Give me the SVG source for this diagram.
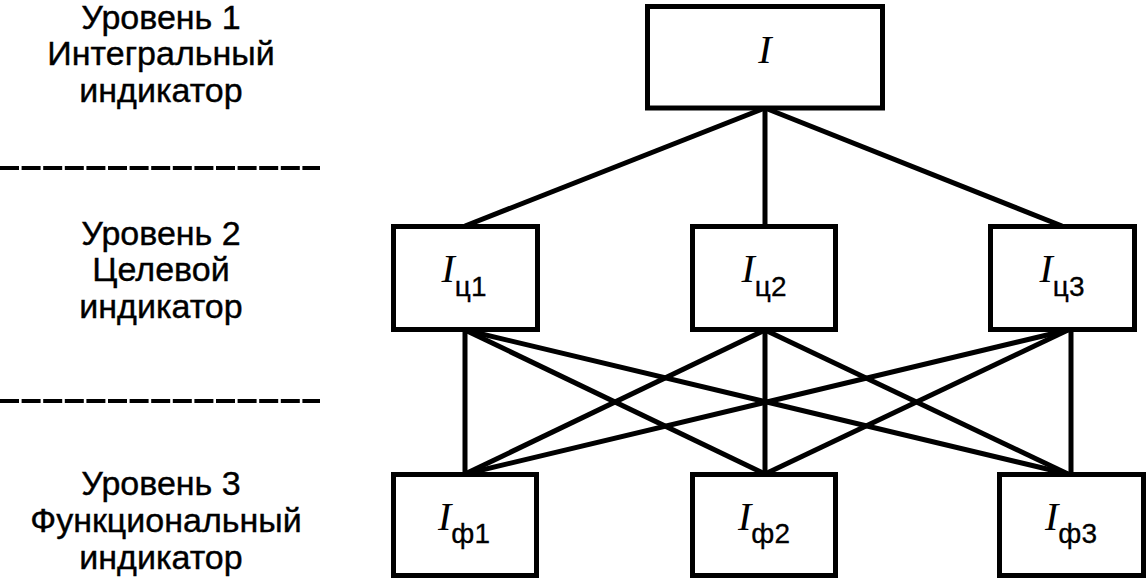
<svg xmlns="http://www.w3.org/2000/svg" width="1147" height="582" viewBox="0 0 1147 582">
<style>
.box{fill:#fff;stroke:#000;stroke-width:5}
.ln{stroke:#000;stroke-width:5;fill:none}
.dash{stroke:#000;stroke-width:4;stroke-dasharray:19 2.6;fill:none}
.lvl{font-family:"Liberation Sans",Arial,sans-serif;font-size:34px;text-anchor:middle;fill:#000;stroke:#000;stroke-width:0.4}
.nl{text-anchor:middle;fill:#000}
.i{font-family:"Liberation Serif","Times New Roman",serif;font-style:italic;font-size:40px}
.sub{font-family:"Liberation Sans",Arial,sans-serif;font-size:28px;stroke:#000;stroke-width:0.3}
</style>
<rect width="1147" height="582" fill="#fff"/>
<g id="levels">
<text class="lvl" x="161" y="29">Уровень 1</text>
<text class="lvl" x="161" y="65">Интегральный</text>
<text class="lvl" x="161" y="102">индикатор</text>
<text class="lvl" x="161" y="245">Уровень 2</text>
<text class="lvl" x="161" y="281">Целевой</text>
<text class="lvl" x="161" y="318">индикатор</text>
<text class="lvl" x="161" y="495">Уровень 3</text>
<text class="lvl" x="166" y="532">Функциональный</text>
<text class="lvl" x="161" y="569">индикатор</text>
<line class="dash" x1="0" y1="168" x2="320" y2="168"/>
<line class="dash" x1="0" y1="401" x2="320" y2="401"/>
</g>
<g id="connectors">
<line class="ln" x1="765" y1="108" x2="465" y2="226"/>
<line class="ln" x1="765" y1="108" x2="765" y2="226"/>
<line class="ln" x1="765" y1="108" x2="1062" y2="226"/>
<line class="ln" x1="465" y1="330" x2="465" y2="474"/>
<line class="ln" x1="465" y1="330" x2="765" y2="474"/>
<line class="ln" x1="465" y1="330" x2="1068" y2="474"/>
<line class="ln" x1="765" y1="330" x2="465" y2="474"/>
<line class="ln" x1="765" y1="330" x2="765" y2="474"/>
<line class="ln" x1="765" y1="330" x2="1068" y2="474"/>
<line class="ln" x1="1068" y1="330" x2="465" y2="474"/>
<line class="ln" x1="1068" y1="330" x2="765" y2="474"/>
<line class="ln" x1="1071" y1="330" x2="1071" y2="474"/>
</g>
<g id="n-I">
<rect class="box" x="647.5" y="6.5" width="235" height="101.5"/>
<text class="nl i" x="765" y="63">I</text>
</g>
<g id="n-c1">
<rect class="box" x="393.5" y="226.5" width="144" height="103"/>
<text class="nl" x="464" y="282"><tspan class="i">I</tspan><tspan class="sub" dy="14">ц1</tspan></text>
</g>
<g id="n-c2">
<rect class="box" x="692.5" y="226.5" width="143" height="103"/>
<text class="nl" x="764" y="282"><tspan class="i">I</tspan><tspan class="sub" dy="14">ц2</tspan></text>
</g>
<g id="n-c3">
<rect class="box" x="990.5" y="226.5" width="144" height="103"/>
<text class="nl" x="1062" y="282"><tspan class="i">I</tspan><tspan class="sub" dy="14">ц3</tspan></text>
</g>
<g id="n-f1">
<rect class="box" x="393.5" y="474.5" width="143" height="101"/>
<text class="nl" x="464" y="530"><tspan class="i">I</tspan><tspan class="sub" dy="13">ф1</tspan></text>
</g>
<g id="n-f2">
<rect class="box" x="692.5" y="474.5" width="143" height="101"/>
<text class="nl" x="764" y="530"><tspan class="i">I</tspan><tspan class="sub" dy="13">ф2</tspan></text>
</g>
<g id="n-f3">
<rect class="box" x="999.5" y="474.5" width="144" height="101"/>
<text class="nl" x="1071" y="530"><tspan class="i">I</tspan><tspan class="sub" dy="13">ф3</tspan></text>
</g>
</svg>
